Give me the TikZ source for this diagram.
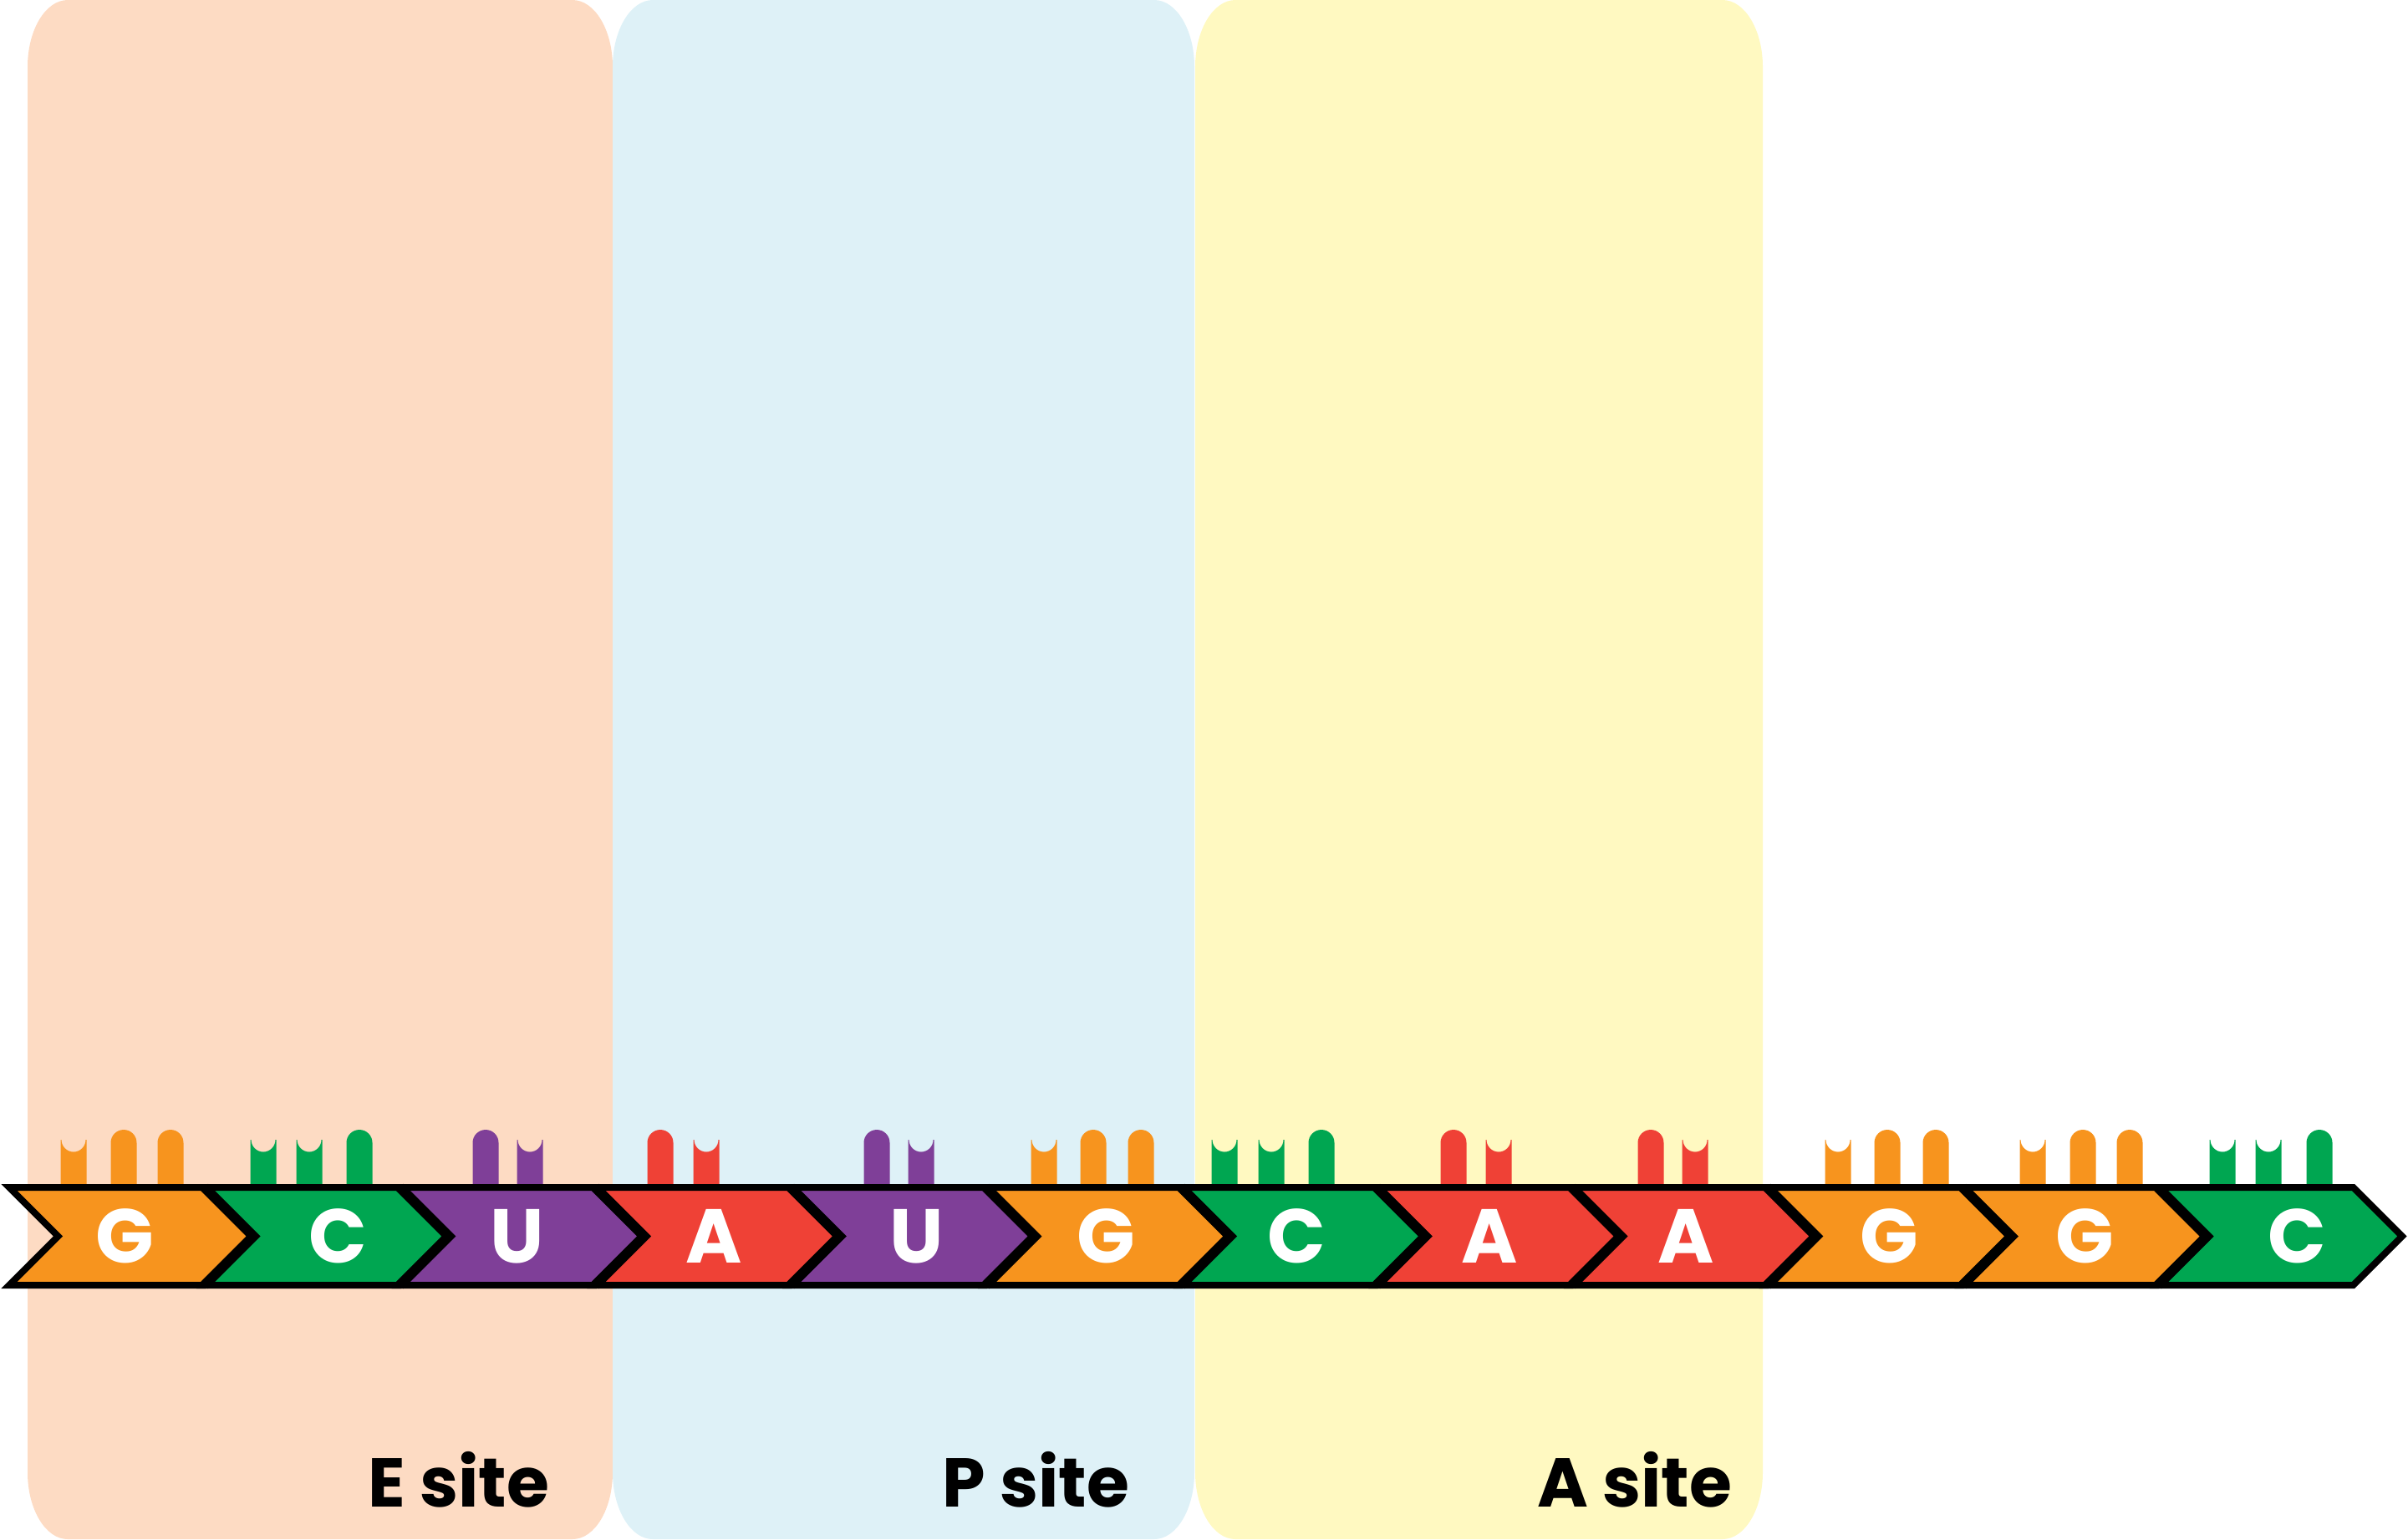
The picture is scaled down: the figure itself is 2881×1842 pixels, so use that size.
\documentclass[tikz,border=0pt]{standalone}
\usepackage{fontspec}
\setmainfont{Poppins}
\definecolor{Peach}{HTML}{FDDBC3}
\definecolor{Sky}{HTML}{DEF1F7}
\definecolor{Butter}{HTML}{FFF9C1}
\definecolor{GOrange}{HTML}{F7941E}
\definecolor{CGreen}{HTML}{00A651}
\definecolor{UPurple}{HTML}{7F3F98}
\definecolor{ARed}{HTML}{EF4136}
\tikzset{corner/.style={x radius=48,y radius=80},
  codon/.style={draw=black,line width=0.8mm,line join=miter},
  joint/.style={draw=black,line width=1.2mm,line join=miter},
  baselabel/.style={text=white,inner sep=0pt,font=\bfseries\fontsize{26}{26}\selectfont},
  sitelabel/.style={inner sep=0pt,anchor=base east,font=\bfseries\fontsize{23.5}{24}\selectfont}}
% site panel with tall rounded corners
\newcommand\sitepanel[3]{\fill[#1] (#2,80) arc[corner,start angle=180,end angle=270]
  -- (#3-48,0) arc[corner,start angle=270,end angle=360] -- (#3,1762)
  arc[corner,start angle=0,end angle=90] -- (#2+48,1842)
  arc[corner,start angle=90,end angle=180] -- cycle;}

\begin{document}
\begin{tikzpicture}[x=0.1mm,y=-0.1mm]
\useasboundingbox (0,0) rectangle (2881,1842);
% ribosome sites
\sitepanel{Peach}{33}{733}
\sitepanel{Sky}{733}{1429}
\sitepanel{Butter}{1430}{2109}
\node[sitelabel] (esite) at (658,1803) {E site};
\node[sitelabel] (psite) at (1352,1803) {P site};
\node[sitelabel] (asite) at (2073,1803) {A site};
% prongs
\foreach \px/\pc in {148/GOrange,204/GOrange,430/CGreen,581/UPurple,790/ARed,
  1049/UPurple,1308/GOrange,1365/GOrange,1581/CGreen,1739/ARed,1975/ARed,
  2258/GOrange,2316/GOrange,2492/GOrange,2548/GOrange,2775/CGreen}
  \fill[\pc] (\px-15.5,1421) -- (\px-15.5,1367.5)
    arc[start angle=180,end angle=360,radius=15.5] -- (\px+15.5,1421) -- cycle;
\foreach \px/\pc in {88/GOrange,315/CGreen,370/CGreen,634/UPurple,845/ARed,
  1102/UPurple,1249/GOrange,1465/CGreen,1521/CGreen,1793/ARed,2028/ARed,
  2199/GOrange,2432/GOrange,2659/CGreen,2714/CGreen}
  \fill[\pc] (\px-15.5,1421) -- (\px-15.5,1364) -- (\px-14.5,1364)
    arc[start angle=180,end angle=0,radius=14.5] -- (\px+15.5,1364) -- (\px+15.5,1421) -- cycle;
% mRNA strand
\foreach \b/\col/\lx [count=\i] in {G/GOrange/149,C/CGreen/404,U/UPurple/619,
  A/ARed/854,U/UPurple/1097,G/GOrange/1323,C/CGreen/1551,A/ARed/1782,
  A/ARed/2017,G/GOrange/2260,G/GOrange/2494,C/CGreen/2748}{
  \pgfmathsetmacro\xa{11+233.7*(\i-1)}
  \filldraw[codon,fill=\col] (\xa,1421) -- ++(233.7,0) -- ++(58.5,58.5)
    -- ++(-58.5,58.5) -- ++(-233.7,0) -- ++(58.5,-58.5) -- cycle;
  \node[baselabel] (b\i) at (\lx,1479.5) {\b};
}
\foreach \i in {1,...,11}
  \draw[joint] ({11+233.7*\i},1421) -- ++(58.5,58.5) -- ++(-58.5,58.5);
\end{tikzpicture}
\end{document}
